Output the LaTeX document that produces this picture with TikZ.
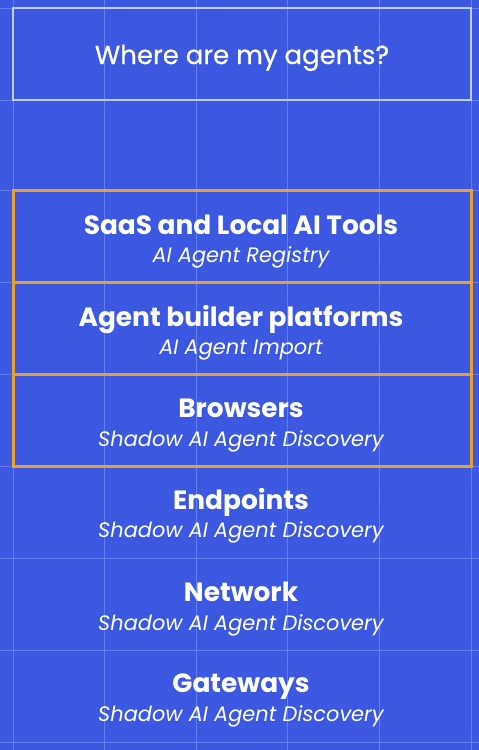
\documentclass[tikz,border=0pt]{standalone}
\usepackage{fontspec}
\setmainfont{Poppins}
\definecolor{bgblue}{RGB}{61,88,224}
\definecolor{gridblue}{RGB}{98,128,240}
\definecolor{titleline}{RGB}{190,204,248}
\definecolor{orangeline}{RGB}{232,160,48}
\tikzset{
  gridline/.style={draw=gridblue, line width=0.9pt},
  rowbox/.style={rectangle, minimum width=458pt, minimum height=92pt, inner sep=0pt},
  hlbox/.style={rowbox, draw=orangeline, line width=3pt},
  headtext/.style={text=white, font=\fontsize{26.4}{30}\selectfont\bfseries, anchor=base, inner sep=0pt},
  subtext/.style={text=white, font=\fontsize{20.9}{25}\selectfont\itshape, anchor=base, inner sep=0pt},
}
\begin{document}
\begin{tikzpicture}[x=1pt,y=-1pt]
\fill[bgblue] (0,0) rectangle (479,750);
\useasboundingbox (0,0) rectangle (479,750);
\foreach \gx in {13,104.6,196.2,287.8,379.4,471}
  \draw[gridline] (\gx,0) -- (\gx,750);
\foreach \gy in {8,100,190,282,374,466,558,650,742}
  \draw[gridline] (0,\gy) -- (479,\gy);
% title
\node[rowbox, draw=titleline, line width=1.6pt] (titlebox) at (242,54) {};
\node[text=white, font=\fontsize{26}{30}\selectfont\addfontfeatures{FakeBold=0.6}, anchor=base, inner sep=0pt] (title) at (242,64) {Where are my agents?};
% rows
\node[hlbox] (r1) at (242,236) {};
\node[hlbox] (r2) at (242,328) {};
\node[hlbox] (r3) at (242,420) {};
\node[rowbox] (r4) at (242,512) {};
\node[rowbox] (r5) at (242,604) {};
\node[rowbox] (r6) at (242,696) {};
\node[headtext] (h1) at (241,234) {SaaS and Local AI Tools};
\node[subtext]  (s1) at (241,262) {AI Agent Registry};
\node[headtext] (h2) at (241,326) {Agent builder platforms};
\node[subtext]  (s2) at (241,354) {AI Agent Import};
\node[headtext] (h3) at (241,417) {Browsers};
\node[subtext]  (s3) at (241,446) {Shadow AI Agent Discovery};
\node[headtext] (h4) at (241,509) {Endpoints};
\node[subtext]  (s4) at (241,537) {Shadow AI Agent Discovery};
\node[headtext] (h5) at (241,601) {Network};
\node[subtext]  (s5) at (241,630) {Shadow AI Agent Discovery};
\node[headtext] (h6) at (241,692) {Gateways};
\node[subtext]  (s6) at (241,721) {Shadow AI Agent Discovery};
\end{tikzpicture}
\end{document}
